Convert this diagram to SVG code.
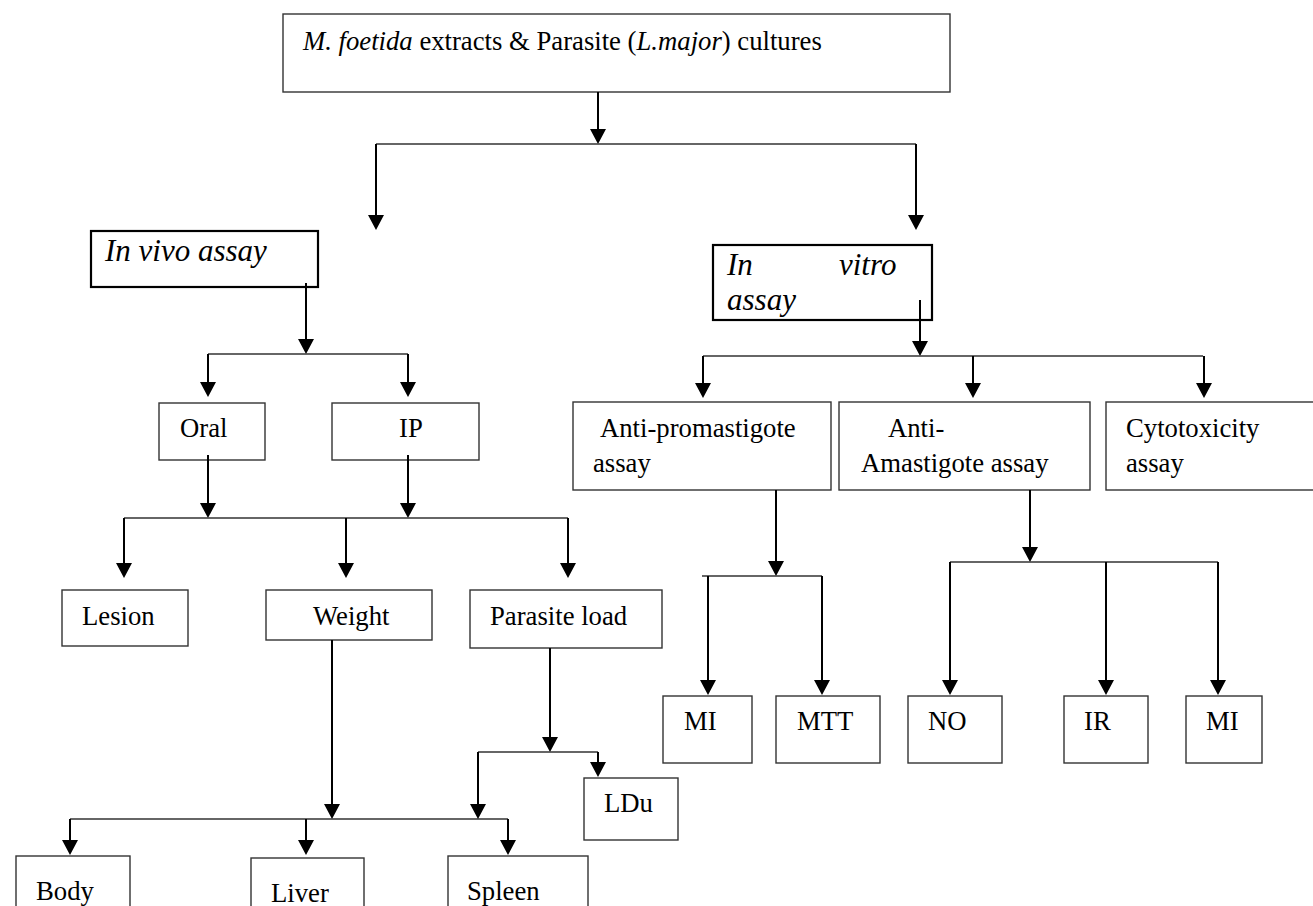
<svg xmlns="http://www.w3.org/2000/svg" width="1313" height="906" viewBox="0 0 1313 906">
<style>
.box{fill:#fff;stroke:#333;stroke-width:1.4}
.bold{fill:#fff;stroke:#000;stroke-width:2.2}
.t{font-family:"Liberation Serif","Times New Roman",serif;font-size:26.7px;fill:#000}
.it{font-family:"Liberation Serif","Times New Roman",serif;font-size:31px;font-style:italic;fill:#000}
.c line,.c path{stroke:#000;stroke-width:2;fill:none}
.c .a{marker-end:url(#ah)}
.c .h{stroke:#333;stroke-width:1.6}
</style>
<defs>
<marker id="ah" markerUnits="userSpaceOnUse" markerWidth="15" markerHeight="16" viewBox="0 0 15 16" refX="5" refY="8" orient="auto">
<path d="M0,0 L15,8 L0,16 z" fill="#000"/>
</marker>
</defs>
<rect width="1313" height="906" fill="#fff"/>

<g id="top">
<rect class="box" x="283" y="14" width="667" height="78"/>
<text class="t" x="303" y="50"><tspan font-style="italic">M. foetida</tspan> extracts &amp; Parasite (<tspan font-style="italic">L.major</tspan>) cultures</text>
</g>

<g id="invivo">
<rect class="bold" x="91" y="231" width="227" height="56"/>
<text class="it" x="105" y="261">In vivo assay</text>
</g>

<g id="invitro">
<rect class="bold" x="713" y="245" width="219" height="75"/>
<text class="it" x="727" y="275">In</text>
<text class="it" x="839" y="275">vitro</text>
<text class="it" x="727" y="310">assay</text>
</g>

<g id="oral"><rect class="box" x="159" y="403" width="106" height="57"/><text class="t" x="180" y="437">Oral</text></g>
<g id="ip"><rect class="box" x="332" y="403" width="147" height="57"/><text class="t" x="399" y="437">IP</text></g>

<g id="antipro"><rect class="box" x="573" y="402" width="258" height="88"/><text class="t" x="600" y="437">Anti-promastigote</text><text class="t" x="593" y="472">assay</text></g>
<g id="antiama"><rect class="box" x="839" y="402" width="251" height="88"/><text class="t" x="888" y="437">Anti-</text><text class="t" x="861" y="472">Amastigote assay</text></g>
<g id="cyto"><rect class="box" x="1106" y="402" width="215" height="88"/><text class="t" x="1126" y="437">Cytotoxicity</text><text class="t" x="1126" y="472">assay</text></g>

<g id="lesion"><rect class="box" x="62" y="590" width="126" height="56"/><text class="t" x="82" y="625">Lesion</text></g>
<g id="weight"><rect class="box" x="266" y="590" width="166" height="50"/><text class="t" x="313" y="625">Weight</text></g>
<g id="parasiteload"><rect class="box" x="470" y="590" width="192" height="58"/><text class="t" x="490" y="625">Parasite load</text></g>

<g id="mi1"><rect class="box" x="663" y="696" width="89" height="67"/><text class="t" x="684" y="730">MI</text></g>
<g id="mtt"><rect class="box" x="776" y="696" width="104" height="67"/><text class="t" x="797" y="730">MTT</text></g>
<g id="no"><rect class="box" x="908" y="696" width="94" height="67"/><text class="t" x="928" y="730">NO</text></g>
<g id="ir"><rect class="box" x="1064" y="696" width="84" height="67"/><text class="t" x="1084" y="730">IR</text></g>
<g id="mi2"><rect class="box" x="1186" y="696" width="76" height="67"/><text class="t" x="1206" y="730">MI</text></g>

<g id="ldu"><rect class="box" x="584" y="778" width="94" height="62"/><text class="t" x="604" y="812">LDu</text></g>

<g id="body"><rect class="box" x="16" y="856" width="114" height="60"/><text class="t" x="36" y="900">Body</text></g>
<g id="liver"><rect class="box" x="251" y="858" width="113" height="60"/><text class="t" x="271" y="902">Liver</text></g>
<g id="spleen"><rect class="box" x="448" y="856" width="140" height="60"/><text class="t" x="467" y="900">Spleen</text></g>

<g id="connectors" class="c">
<line class="a" x1="598" y1="92" x2="598" y2="134"/>
<line class="h" x1="376" y1="144" x2="916" y2="144"/>
<line class="a" x1="376" y1="144" x2="376" y2="220"/>
<line class="a" x1="916" y1="144" x2="916" y2="220"/>

<line class="a" x1="306" y1="283" x2="306" y2="344"/>
<line class="h" x1="208" y1="354" x2="408" y2="354"/>
<line class="a" x1="208" y1="354" x2="208" y2="387"/>
<line class="a" x1="408" y1="354" x2="408" y2="387"/>

<line class="a" x1="208" y1="455" x2="208" y2="508"/>
<line class="a" x1="408" y1="455" x2="408" y2="508"/>
<line class="h" x1="124" y1="518" x2="568" y2="518"/>
<line class="a" x1="124" y1="518" x2="124" y2="568"/>
<line class="a" x1="346" y1="518" x2="346" y2="568"/>
<line class="a" x1="568" y1="518" x2="568" y2="568"/>

<line class="a" x1="332" y1="640" x2="332" y2="809"/>
<line class="h" x1="70" y1="819" x2="508" y2="819"/>
<line class="a" x1="70" y1="819" x2="70" y2="845"/>
<line class="a" x1="306" y1="819" x2="306" y2="845"/>
<line class="a" x1="508" y1="819" x2="508" y2="845"/>

<line class="a" x1="550" y1="648" x2="550" y2="742"/>
<line class="h" x1="478" y1="752" x2="598" y2="752"/>
<line class="a" x1="478" y1="752" x2="478" y2="809"/>
<line class="a" x1="598" y1="752" x2="598" y2="767"/>

<line class="a" x1="920" y1="300" x2="920" y2="346"/>
<line class="h" x1="703" y1="356" x2="1203" y2="356"/>
<line class="a" x1="703" y1="356" x2="703" y2="388"/>
<line class="a" x1="973" y1="356" x2="973" y2="388"/>
<line class="a" x1="1204" y1="356" x2="1204" y2="388"/>

<line class="a" x1="776" y1="490" x2="776" y2="566"/>
<line class="h" x1="702" y1="576" x2="822" y2="576"/>
<line class="a" x1="708" y1="576" x2="708" y2="685"/>
<line class="a" x1="822" y1="576" x2="822" y2="685"/>

<line class="a" x1="1030" y1="490" x2="1030" y2="552"/>
<line class="h" x1="950" y1="562" x2="1218" y2="562"/>
<line class="a" x1="950" y1="562" x2="950" y2="685"/>
<line class="a" x1="1106" y1="562" x2="1106" y2="685"/>
<line class="a" x1="1218" y1="562" x2="1218" y2="685"/>
</g>
</svg>
